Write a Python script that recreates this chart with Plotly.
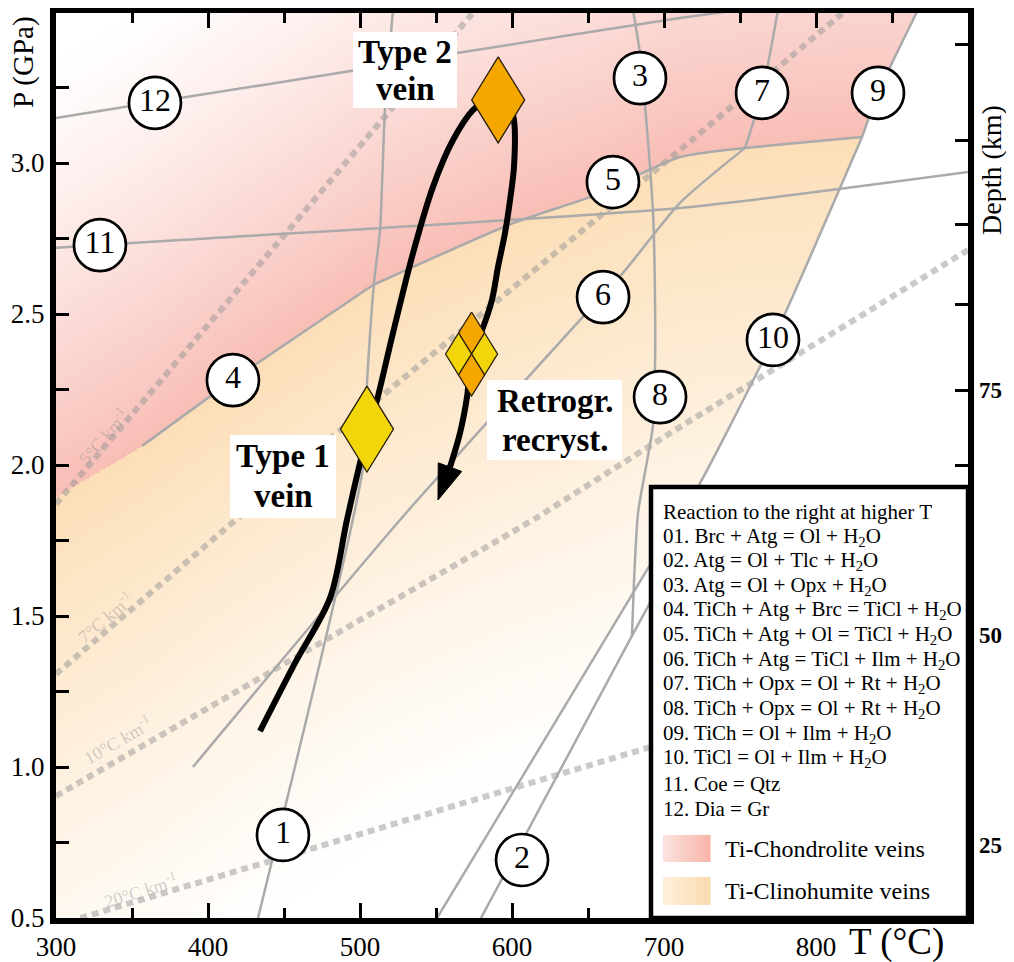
import numpy as np
import plotly.graph_objects as go

# ---------------- axis definitions ----------------
T_RANGE = [300, 900]
P_RANGE = [0.5, 3.4967]
x_ticks = [300, 400, 500, 600, 700, 800]
x_tick_labels = ["300", "400", "500", "600", "700", "800"]
x_minor_ticks = [350, 450, 550, 650, 750, 850, 900]
y_ticks = [0.5, 1.0, 1.5, 2.0, 2.5, 3.0]
y_tick_labels = ["0.5", "1.0", "1.5", "2.0", "2.5", "3.0"]
y_minor_ticks = [0.75, 1.25, 1.75, 2.25, 2.75, 3.25]
depth_labels = ["25", "50", "75"]
depth_P = [0.742, 1.437, 2.248]
depth_minor_P = [2.0, 2.53, 2.795, 3.076, 3.391]

# ---------------- reaction curves (T in °C, P in GPa) ----------------
r1_T = [432.9, 502.0, 504.6, 509.2, 513.2, 516.4, 521.7]
r1_P = [0.5, 1.993, 2.272, 2.603, 2.778, 3.175, 3.507]
r2_T = [579.6, 678.9, 717.0]
r2_P = [0.5, 1.434, 1.785]
r3_T = [679.6, 684.2, 687.5, 692.8, 694.1, 694.1, 692.8, 682.9, 680.3, 678.9]
r3_P = [3.507, 3.364, 3.192, 2.834, 2.546, 2.325, 2.132, 1.841, 1.619, 1.434]
r4_T = [356.6, 416.4, 508.6]
r4_P = [2.063, 2.281, 2.596]
r5_T = [508.6, 600.7, 651.3, 666.4, 710.5, 753.3]
r5_P = [2.596, 2.801, 2.887, 2.921, 3.020, 3.050]
r6_T = [390.1, 526.3, 644.7, 673.0, 710.5, 753.3]
r6_P = [1.0, 1.818, 2.480, 2.636, 2.868, 3.050]
r7_T = [753.3, 764.5, 775.0]
r7_P = [3.050, 3.232, 3.507]
r8_T = [753.3, 830.3]
r8_P = [3.050, 3.086]
r9_T = [830.3, 840.8, 867.1]
r9_P = [3.086, 3.232, 3.507]
r10_T = [830.3, 771.7, 723.7, 690.8, 550.7]
r10_P = [3.086, 2.414, 1.940, 1.669, 0.5]
r11_T = [300, 381.6, 710.5, 900]
r11_P = [2.719, 2.745, 2.851, 2.970]
r12_T = [300, 381.6, 498.0, 563.8, 710.5, 750]
r12_P = [3.149, 3.215, 3.308, 3.364, 3.480, 3.507]

# left-edge start of the Ti-Chondrodite / Ti-Clinohumite field boundary
field_edge_T = [300]
field_edge_P = [1.891]

# ---------------- geotherms ----------------
geo_names = ["5°C km<sup>-1</sup>", "7°C km<sup>-1</sup>", "10°C km<sup>-1</sup>", "20°C km<sup>-1</sup>"]
g5_T = [300, 576];               g5_P = [1.871, 3.507]
g7_T = [300, 484.9, 710.5, 820]; g7_P = [1.308, 2.106, 3.043, 3.507]
g10_T = [300, 613.8, 710.5, 900]; g10_P = [0.904, 1.818, 2.126, 2.712]
g20_T = [316, 690.8, 740];       g20_P = [0.5, 1.066, 1.14]

# ---------------- P-T path ----------------
path_T = [434.2, 457.2, 480.3, 491.4, 501.3, 511.2, 521.7, 534.9, 548.0, 561.2, 574.3,
          587.5, 597.4, 601.3, 601.3, 598.7, 595.4, 590.8, 586.8, 580.3, 573.7, 570.4,
          565.8, 559.2, 551.3]
path_P = [1.119, 1.344, 1.560, 1.818, 2.033, 2.215, 2.437, 2.702, 2.921, 3.076, 3.175,
          3.219, 3.209, 3.142, 2.987, 2.877, 2.768, 2.656, 2.546, 2.447, 2.371, 2.225,
          2.106, 1.993, 1.884]

# ---------------- vein samples ----------------
vein_T = [504.6, 590.9]
vein_P = [2.119, 3.209]
vein_kind = ["Ti-Cl", "Ti-Ch"]
retro_T = [573.4, 564.85, 581.95, 573.4]
retro_P = [2.437, 2.3675, 2.3675, 2.298]
retro_kind = ["Ti-Ch", "Ti-Cl", "Ti-Cl", "Ti-Ch"]

# ---------------- circled reaction numbers ----------------
lab_num = ["1", "2", "3", "4", "5", "6", "7", "8", "9", "10", "11", "12"]
lab_T = [449.3, 606.6, 684.2, 416.4, 666.4, 659.9, 764.5, 697.4, 840.8, 771.7, 328.9, 365.1]
lab_P = [0.775, 0.692, 3.281, 2.281, 2.937, 2.556, 3.232, 2.225, 3.232, 2.414, 2.728, 3.199]

legend_lines = [
    "Reaction to the right at higher T",
    "01. Brc + Atg = Ol + H<sub>2</sub>O",
    "02. Atg = Ol + Tlc + H<sub>2</sub>O",
    "03. Atg = Ol + Opx + H<sub>2</sub>O",
    "04. TiCh + Atg + Brc = TiCl + H<sub>2</sub>O",
    "05. TiCh + Atg + Ol = TiCl + H<sub>2</sub>O",
    "06. TiCh + Atg = TiCl + Ilm + H<sub>2</sub>O",
    "07. TiCh + Opx = Ol + Rt + H<sub>2</sub>O",
    "08. TiCh + Opx = Ol + Rt + H<sub>2</sub>O",
    "09. TiCh = Ol + Ilm + H<sub>2</sub>O",
    "10. TiCl = Ol + Ilm + H<sub>2</sub>O",
    "11. Coe = Qtz",
    "12. Dia = Gr",
]
field_names = ["Ti-Chondrolite veins", "Ti-Clinohumite veins"]

# ================= layout geometry (screen pixels) =================
OFF = 8                      # page body margin
W, H = 1014 - OFF, 962 - OFF
SX0, SX1 = 56, 968           # plot area left/right on screen
SY0, SY1 = 13, 918           # plot area top/bottom on screen
PW, PH = SX1 - SX0, SY1 - SY0
ML, MR = SX0 - OFF, W - (SX1 - OFF)
MT, MB = SY0 - OFF, H - (SY1 - OFF)
PXT = PW / (T_RANGE[1] - T_RANGE[0])
PXP = PH / (P_RANGE[1] - P_RANGE[0])


def tx(x):
    return T_RANGE[0] + (x - SX0) / PXT


def py(y):
    return P_RANGE[0] + (SY1 - y) / PXP


def xp(x):
    return (x - SX0) / PW


def yp(y):
    return (SY1 - y) / PH


FONT = "Liberation Serif"
GRAY = "rgb(170,170,170)"
YEL = "rgb(243,214,10)"
ORA = "rgb(245,167,0)"
kind_color = {"Ti-Cl": YEL, "Ti-Ch": ORA}

fig = go.Figure()

# ---------------- background fields (gradient) ----------------
bnd_T = field_edge_T + r4_T + r5_T[1:] + r8_T[1:]
bnd_P = field_edge_P + r4_P + r5_P[1:] + r8_P[1:]
Tg = np.linspace(T_RANGE[0], T_RANGE[1], 457)
Pg = np.linspace(P_RANGE[0], P_RANGE[1], 454)
TT, PP = np.meshgrid(Tg, Pg)
B = np.interp(TT, bnd_T, bnd_P)
dist = (PP - B) * PXP * 0.9
pink = (PP > B) & (TT <= np.interp(PP, r9_P, r9_T))
orange = (PP <= B) & (TT <= np.interp(PP, r10_P[::-1], r10_T[::-1]))
ip = np.clip(1 - dist / 400.0, 0, 1) ** 1.25
io = np.clip(1 + dist / 520.0, 0, 1) ** 1.2
Z = np.where(pink, 0.501 + 0.499 * ip, np.where(orange, 0.5 * io, 0.0))
fig.add_trace(go.Heatmap(
    x=Tg, y=Pg, z=np.round(Z, 3), zmin=0, zmax=1, showscale=False, hoverinfo="skip",
    colorscale=[[0, "rgb(255,255,255)"], [0.5, "rgb(252,223,184)"],
                [0.5005, "rgb(255,255,255)"], [1, "rgb(248,190,182)"]]))

# ---------------- geotherms ----------------
for gt, gp in [(g5_T, g5_P), (g7_T, g7_P), (g10_T, g10_P), (g20_T, g20_P)]:
    fig.add_trace(go.Scatter(x=gt, y=gp, mode="lines", hoverinfo="skip",
                             line=dict(color="rgba(150,150,150,0.5)", width=6, dash="7px,5px")))

# ---------------- reaction lines ----------------
for rt, rp in [(r1_T, r1_P), (r2_T, r2_P), (r3_T, r3_P), (r4_T, r4_P), (r5_T, r5_P),
               (r6_T, r6_P), (r7_T, r7_P), (r8_T, r8_P), (r9_T, r9_P), (r10_T, r10_P),
               (r11_T, r11_P), (r12_T, r12_P)]:
    fig.add_trace(go.Scatter(x=rt, y=rp, mode="lines", hoverinfo="skip",
                             line=dict(color=GRAY, width=2.5, shape="spline", smoothing=0.6)))

# ---------------- P-T path with arrow ----------------
fig.add_trace(go.Scatter(x=path_T[:-1], y=path_P[:-1], mode="lines", hoverinfo="skip",
                         line=dict(color="black", width=6, shape="spline", smoothing=0.9)))
dxp = (path_T[-1] - path_T[-2]) * PXT
dyp = (path_P[-1] - path_P[-2]) * PXP
L = np.hypot(dxp, dyp)
nx_, ny_ = -dyp / L, dxp / L
hw = 12.5
ah_T = [path_T[-1], path_T[-2] + nx_ * hw / PXT, path_T[-2] - nx_ * hw / PXT, path_T[-1]]
ah_P = [path_P[-1], path_P[-2] + ny_ * hw / PXP, path_P[-2] - ny_ * hw / PXP, path_P[-1]]
fig.add_trace(go.Scatter(x=ah_T, y=ah_P, mode="lines", fill="toself", fillcolor="black",
                         line=dict(color="black", width=1), hoverinfo="skip"))


# ---------------- diamonds ----------------
def diamond(t, p, hw_px, hh_px, color):
    dt, dp = hw_px / PXT, hh_px / PXP
    fig.add_trace(go.Scatter(
        x=[t, t + dt, t, t - dt, t], y=[p + dp, p, p - dp, p, p + dp],
        mode="lines", fill="toself", fillcolor=color, hoverinfo="skip",
        line=dict(color="rgb(40,30,10)", width=1.3)))


for t, p, k in zip(vein_T, vein_P, vein_kind):
    diamond(t, p, 26.5, 43, kind_color[k])
for t, p, k in zip(retro_T, retro_P, retro_kind):
    diamond(t, p, 13, 21, kind_color[k])

# ---------------- circled numbers ----------------
fig.add_trace(go.Scatter(
    x=lab_T, y=lab_P, mode="markers+text", text=lab_num, textposition="middle center",
    textfont=dict(family=FONT, size=32, color="black"), hoverinfo="skip",
    marker=dict(size=52, color="white", line=dict(color="black", width=2.7))))

# dummy trace for depth axis
fig.add_trace(go.Scatter(x=[T_RANGE[0]], y=[P_RANGE[0]], yaxis="y2", mode="markers",
                         marker=dict(opacity=0), hoverinfo="skip"))

shapes = []
annotations = []

# white label boxes
for (x0, y0, x1, y1) in [(353, 32, 457, 108), (230, 435, 336, 518), (487, 380, 622, 460)]:
    shapes.append(dict(type="rect", xref="x", yref="y", x0=tx(x0), x1=tx(x1), y0=py(y1), y1=py(y0),
                       fillcolor="white", line=dict(width=0), layer="above"))
for txt, x, y in [("Type 2", 405, 52), ("vein", 405, 89), ("Type 1", 283, 456), ("vein", 283, 496),
                  ("Retrogr.", 555, 401), ("recryst.", 555, 440)]:
    annotations.append(dict(x=tx(x), y=py(y), xref="x", yref="y", text="<b>" + txt + "</b>",
                            xanchor="center", yanchor="middle",
                            showarrow=False, font=dict(family=FONT, size=33, color="black")))

# geotherm labels
for txt, x, y, ang in zip(geo_names, [103, 105, 117, 140], [436, 617, 740, 890], [-49, -40, -30, -17]):
    annotations.append(dict(x=tx(x), y=py(y), xref="x", yref="y", text=txt, showarrow=False,
                            xanchor="center", yanchor="middle",
                            textangle=ang, font=dict(family=FONT, size=18, color="rgba(150,150,150,0.45)")))

# legend box
shapes.append(dict(type="rect", xref="x", yref="y", x0=tx(651), x1=T_RANGE[1], y0=P_RANGE[0], y1=py(487),
                   fillcolor="white", line=dict(color="black", width=4.5), layer="above"))
leg_y = [512, 537, 561, 586, 610, 635, 660, 684, 709, 734, 758, 784, 809]
for txt, y in zip(legend_lines, leg_y):
    annotations.append(dict(x=tx(661), y=py(y), xref="x", yref="y", text=txt, showarrow=False,
                            xanchor="left", yanchor="middle", font=dict(family=FONT, size=21, color="black")))
# swatches with gradients
sw_cols = [((252, 226, 221), (248, 182, 170)), ((254, 239, 218), (251, 220, 178))]
for (ytop, ybot), (c0, c1), name in zip([(835, 862), (877, 905)], sw_cols, field_names):
    n = 14
    for i in range(n):
        f = i / (n - 1)
        c = tuple(int(round(c0[j] + (c1[j] - c0[j]) * f)) for j in range(3))
        xa = 663 + (710 - 663) * i / n
        xb = 663 + (710 - 663) * (i + 1) / n + 0.6
        shapes.append(dict(type="rect", xref="x", yref="y", x0=tx(xa), x1=tx(xb), y0=py(ybot), y1=py(ytop),
                           fillcolor="rgb(%d,%d,%d)" % c, line=dict(width=0), layer="above"))
    annotations.append(dict(x=tx(723), y=py((ytop + ybot) / 2), xref="x", yref="y", text=name,
                            showarrow=False, xanchor="left", yanchor="middle",
                            font=dict(family=FONT, size=24, color="black")))

# axis titles
annotations.append(dict(x=xp(24), y=yp(62), xref="paper", yref="paper", text="P (GPa)",
                        xanchor="center", yanchor="middle",
                        textangle=-90, showarrow=False, font=dict(family=FONT, size=29, color="black")))
annotations.append(dict(x=xp(991), y=yp(170), xref="paper", yref="paper", text="Depth (km)",
                        xanchor="center", yanchor="middle",
                        textangle=-90, showarrow=False, font=dict(family=FONT, size=28, color="black")))
annotations.append(dict(x=xp(896), y=yp(942), xref="paper", yref="paper", text="T (°C)",
                        xanchor="center", yanchor="middle",
                        showarrow=False, font=dict(family=FONT, size=37, color="black")))

tickfont = dict(family=FONT, size=27, color="black")
fig.update_layout(
    width=W, height=H, autosize=False,
    margin=dict(l=ML, r=MR, t=MT, b=MB, pad=0, autoexpand=False),
    paper_bgcolor="white", plot_bgcolor="white",
    showlegend=False,
    shapes=shapes, annotations=annotations,
    xaxis=dict(range=T_RANGE, tickmode="array", tickvals=x_ticks, ticktext=x_tick_labels,
               ticks="inside", ticklen=15, tickwidth=3, tickcolor="black", automargin=False,
               minor=dict(tickmode="array", tickvals=x_minor_ticks, ticks="inside", ticklen=10,
                          tickwidth=3, tickcolor="black"),
               showline=True, linewidth=6, linecolor="black", mirror="ticks",
               showgrid=False, zeroline=False, tickfont=tickfont),
    yaxis=dict(range=P_RANGE, tickmode="array", tickvals=y_ticks, ticktext=y_tick_labels,
               ticks="inside", ticklen=13, tickwidth=3, tickcolor="black", automargin=False,
               minor=dict(tickmode="array", tickvals=y_minor_ticks, ticks="inside", ticklen=13,
                          tickwidth=3, tickcolor="black"),
               showline=True, linewidth=6, linecolor="black", mirror=True,
               showgrid=False, zeroline=False, tickfont=tickfont),
    yaxis2=dict(range=P_RANGE, overlaying="y", side="right", tickmode="array", automargin=False,
                tickvals=depth_P, ticktext=depth_labels, ticks="inside", ticklen=13, tickwidth=3,
                tickcolor="black", ticklabelstandoff=10,
                minor=dict(tickmode="array", tickvals=depth_minor_P, ticks="inside", ticklen=13,
                           tickwidth=3, tickcolor="black"),
                showline=False, showgrid=False, zeroline=False,
                tickfont=dict(family=FONT, size=23, color="black", weight="bold")),
)

fig.write_html("out.html")
